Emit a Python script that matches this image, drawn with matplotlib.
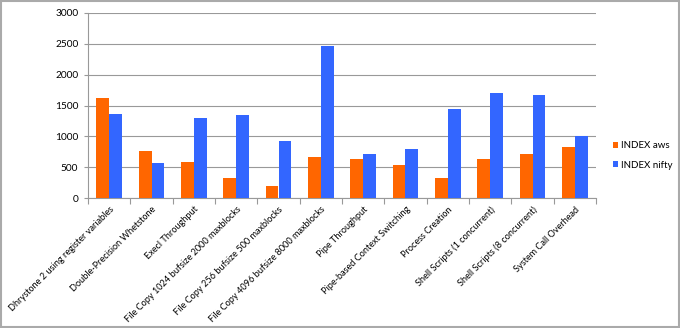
import numpy as np
import matplotlib.pyplot as plt
from matplotlib.patches import Rectangle

categories = [
    'Dhrystone 2 using register variables',
    'Double-Precision Whetstone',
    'Execl Throughput',
    'File Copy 1024 bufsize 2000 maxblocks',
    'File Copy 256 bufsize 500 maxblocks',
    'File Copy 4096 bufsize 8000 maxblocks',
    'Pipe Throughput',
    'Pipe-based Context Switching',
    'Process Creation',
    'Shell Scripts (1 concurrent)',
    'Shell Scripts (8 concurrent)',
    'System Call Overhead',
]
index_aws = [1626, 757, 580, 320, 195, 670, 632, 535, 320, 632, 708, 827]
index_nifty = [1368, 563, 1297, 1341, 924, 2458, 708, 800, 1438, 1698, 1672, 1000]

plt.rcParams['font.family'] = ['Lato', 'DejaVu Sans']

fig = plt.figure(figsize=(6.8, 3.28), dpi=100)
ax = fig.add_axes([88 / 680, 130 / 328, 508 / 680, 185 / 328])

x = np.arange(len(categories)) + 0.5
w = 0.3
ax.bar(x - w / 2, index_aws, w, color='#FF6600', label='INDEX aws', zorder=3)
ax.bar(x + w / 2, index_nifty, w, color='#3366FF', label='INDEX nifty', zorder=3)

ax.set_xlim(0, len(categories))
ax.set_ylim(0, 3000)
ax.set_yticks(range(0, 3001, 500))
ax.yaxis.grid(True, color='#999999', linewidth=0.8, zorder=0)
ax.tick_params(axis='y', labelsize=7.3, length=3, color='#999999', pad=4)

ax.set_xticks(np.arange(len(categories) + 1), minor=False)
ax.set_xticklabels([])
ax.set_xticks(x, minor=True)
ax.set_xticklabels(categories, minor=True, rotation=45, ha='right',
                   rotation_mode='anchor', fontsize=6.6)
ax.tick_params(axis='x', which='major', length=4, color='#999999')
ax.tick_params(axis='x', which='minor', length=0, pad=5)

for s in ['top', 'right']:
    ax.spines[s].set_visible(False)
for s in ['left', 'bottom']:
    ax.spines[s].set_color('#999999')

ax.legend(loc='center left', bbox_to_anchor=(1.025, 0.23), frameon=False,
          fontsize=7, handlelength=0.6, handleheight=0.6, labelspacing=1.1,
          handletextpad=0.3, borderaxespad=0)

fig.patches.append(Rectangle((0.002, 0.003), 0.996, 0.994, transform=fig.transFigure,
                             fill=False, edgecolor='#AAAAAA', linewidth=1.5))

fig.savefig('out.png', dpi=100)
